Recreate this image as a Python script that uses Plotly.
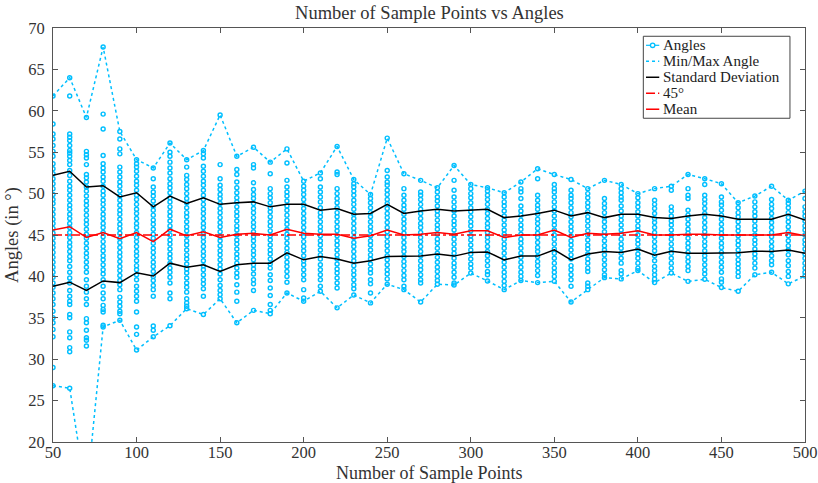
import plotly.graph_objects as go

SAMPLE_POINTS = list(range(50, 501, 10))

ANGLES = [
    [61.8, 58.4, 57.2, 56.6, 55.8, 55.1, 54.5, 53.6, 53.0, 52.4, 51.8, 51.2, 50.6, 49.9, 49.3, 48.8, 48.1, 47.5, 46.9, 46.4, 45.8, 45.2, 44.6, 44.0, 43.5, 42.9, 42.3, 41.7, 41.1, 40.5, 39.9, 39.2, 38.7, 38.0, 37.3, 36.6, 35.8, 35.0, 34.4, 33.6, 32.7, 29.0, 26.8],
    [64.0, 61.8, 57.2, 56.8, 56.4, 55.8, 55.2, 54.9, 54.5, 54.0, 53.5, 52.8, 52.2, 51.5, 50.9, 50.4, 49.8, 49.2, 48.6, 48.1, 47.5, 47.0, 46.4, 45.9, 45.3, 44.7, 44.1, 43.6, 43.0, 42.4, 41.9, 41.2, 40.5, 39.8, 39.2, 38.3, 37.6, 37.0, 36.6, 35.4, 35.0, 33.3, 32.6, 31.4, 30.9, 26.5],
    [59.2, 55.1, 54.7, 54.3, 53.5, 52.3, 51.9, 51.4, 50.8, 50.3, 49.7, 49.1, 48.6, 48.0, 47.4, 46.8, 46.3, 45.7, 45.1, 44.6, 44.0, 43.4, 42.8, 42.3, 41.7, 41.1, 40.5, 39.6, 38.8, 38.1, 37.3, 36.6, 34.9, 34.4, 33.5, 32.6, 32.3, 31.6, 13.5],
    [67.7, 59.6, 57.8, 54.6, 53.6, 53.1, 52.6, 52.0, 51.5, 50.9, 50.3, 49.8, 49.2, 48.7, 48.1, 47.5, 47.0, 46.4, 45.9, 45.3, 44.8, 44.2, 43.6, 43.1, 42.5, 42.0, 41.4, 40.8, 40.3, 39.6, 38.8, 38.0, 37.3, 36.5, 36.0, 35.7, 34.1, 33.9],
    [57.5, 56.6, 55.4, 54.8, 53.2, 52.6, 52.0, 51.4, 50.9, 50.3, 49.7, 49.2, 48.6, 48.0, 47.5, 46.9, 46.3, 45.8, 45.2, 44.6, 44.1, 43.5, 42.9, 42.4, 41.8, 41.2, 40.7, 40.1, 39.5, 39.0, 38.4, 37.5, 36.9, 36.4, 35.8, 35.5, 34.7],
    [54.1, 53.6, 53.2, 52.7, 52.1, 51.5, 51.0, 50.4, 49.8, 49.3, 48.7, 48.1, 47.6, 47.0, 46.4, 45.9, 45.3, 44.7, 44.2, 43.6, 43.0, 42.5, 41.9, 41.3, 40.8, 40.2, 39.6, 38.8, 38.2, 37.6, 37.0, 35.7, 33.9, 33.0, 31.1],
    [53.1, 51.8, 50.8, 50.2, 49.7, 49.1, 48.5, 48.0, 47.4, 46.8, 46.3, 45.7, 45.1, 44.6, 44.0, 43.4, 42.9, 42.3, 41.7, 41.2, 40.6, 40.0, 39.5, 38.9, 38.4, 37.6, 34.0, 33.5, 32.7],
    [56.1, 55.0, 54.5, 53.8, 53.1, 52.5, 51.8, 51.2, 50.7, 50.1, 49.5, 49.0, 48.4, 47.8, 47.3, 46.7, 46.1, 45.6, 45.0, 44.4, 43.9, 43.3, 42.7, 42.2, 41.6, 41.0, 40.5, 39.9, 39.2, 38.0, 37.3, 34.05],
    [54.1, 53.2, 52.2, 51.7, 51.1, 50.6, 50.0, 49.4, 48.9, 48.3, 47.7, 47.2, 46.6, 46.0, 45.5, 44.9, 44.3, 43.8, 43.2, 42.6, 42.1, 41.5, 40.9, 40.4, 39.8, 39.2, 38.7, 38.1, 37.3, 36.8, 36.4, 36.1],
    [55.2, 54.8, 54.3, 53.3, 52.7, 52.1, 51.5, 51.0, 50.4, 49.8, 49.3, 48.7, 48.1, 47.6, 47.0, 46.4, 45.9, 45.3, 44.7, 44.2, 43.6, 43.0, 42.5, 41.9, 41.3, 40.8, 40.2, 39.6, 39.1, 38.5, 37.6, 35.4],
    [59.5, 53.5, 51.8, 51.0, 50.5, 49.9, 49.4, 48.8, 48.2, 47.7, 47.1, 46.5, 46.0, 45.4, 44.8, 44.3, 43.7, 43.1, 42.6, 42.0, 41.4, 40.9, 40.3, 39.6, 38.9, 38.3, 37.8, 37.3],
    [54.5, 52.9, 52.3, 51.4, 50.7, 50.1, 49.5, 49.0, 48.4, 47.8, 47.3, 46.7, 46.1, 45.6, 45.0, 44.4, 43.9, 43.3, 42.7, 42.2, 41.6, 41.0, 40.4, 39.9, 39.0, 38.1, 37.0, 34.4],
    [55.6, 53.5, 53.1, 51.3, 50.5, 49.9, 49.4, 48.8, 48.2, 47.7, 47.1, 46.5, 46.0, 45.4, 44.8, 44.3, 43.7, 43.1, 42.6, 42.0, 41.4, 40.9, 40.3, 39.6, 39.1, 38.3, 35.9],
    [53.8, 52.4, 50.6, 50.0, 49.5, 48.9, 48.3, 47.8, 47.2, 46.6, 46.1, 45.5, 44.9, 44.4, 43.8, 43.2, 42.7, 42.1, 41.5, 41.0, 40.2, 39.5, 38.6, 37.7, 36.6, 35.9, 35.5],
    [55.4, 53.7, 51.6, 50.8, 50.2, 49.7, 49.1, 48.5, 48.0, 47.4, 46.8, 46.3, 45.7, 45.1, 44.6, 44.0, 43.4, 42.9, 42.3, 41.7, 41.2, 40.6, 40.0, 39.3, 38.0],
    [51.5, 50.9, 50.4, 49.9, 49.3, 48.7, 48.2, 47.6, 47.0, 46.5, 45.9, 45.3, 44.8, 44.2, 43.6, 43.1, 42.5, 41.9, 41.4, 40.8, 40.2, 39.6, 38.4, 37.4, 37.0],
    [52.5, 51.8, 50.8, 50.2, 49.6, 49.0, 48.3, 47.7, 47.2, 46.6, 46.0, 45.5, 44.9, 44.3, 43.8, 43.2, 42.6, 42.1, 41.4, 40.8, 40.2, 39.6, 38.8, 38.2],
    [55.7, 52.6, 52.3, 50.6, 50.0, 49.4, 48.9, 48.3, 47.7, 47.2, 46.6, 46.0, 45.5, 44.9, 44.3, 43.8, 43.2, 42.6, 42.1, 41.5, 40.9, 40.4, 39.8, 39.2, 38.6, 36.2],
    [51.7, 51.2, 50.8, 50.3, 49.8, 49.2, 48.7, 48.1, 47.5, 47.0, 46.4, 45.8, 45.3, 44.7, 44.1, 43.6, 43.0, 42.4, 41.9, 41.3, 40.7, 40.2, 39.6, 39.0, 38.5, 37.75],
    [49.9, 49.4, 48.9, 48.3, 47.7, 47.2, 46.6, 46.0, 45.5, 44.9, 44.3, 43.8, 43.2, 42.6, 42.1, 41.5, 40.9, 40.4, 39.6, 39.1, 38.0, 36.8],
    [56.7, 52.8, 52.0, 51.4, 51.0, 50.4, 49.9, 49.3, 48.8, 48.2, 47.6, 47.1, 46.5, 45.9, 45.4, 44.8, 44.2, 43.7, 43.1, 42.5, 42.0, 41.4, 40.8, 40.3, 39.7, 39.05],
    [52.4, 50.6, 49.8, 49.2, 48.6, 48.1, 47.5, 46.9, 46.4, 45.8, 45.2, 44.7, 44.1, 43.5, 43.0, 42.4, 41.8, 41.3, 40.7, 40.1, 39.6, 38.8, 38.4],
    [51.6, 50.2, 49.8, 49.3, 48.7, 48.1, 47.6, 47.0, 46.4, 45.9, 45.3, 44.7, 44.2, 43.6, 43.0, 42.5, 41.9, 41.3, 40.8, 40.2, 39.6, 39.2, 36.9],
    [50.7, 50.2, 49.6, 49.1, 48.5, 47.9, 47.4, 46.8, 46.2, 45.7, 45.1, 44.5, 44.0, 43.4, 42.8, 42.3, 41.7, 41.1, 40.6, 40.0, 39.5, 39.05],
    [53.4, 51.6, 50.4, 49.6, 49.0, 48.4, 47.9, 47.3, 46.7, 46.2, 45.6, 45.0, 44.5, 43.9, 43.3, 42.8, 42.2, 41.6, 41.1, 40.5, 39.9, 39.2, 38.96],
    [51.1, 50.6, 50.0, 49.5, 48.9, 48.3, 47.8, 47.2, 46.6, 46.1, 45.5, 44.9, 44.4, 43.8, 43.2, 42.7, 42.1, 41.5, 41.0, 40.4],
    [50.7, 50.3, 49.8, 49.3, 48.7, 48.1, 47.6, 47.0, 46.4, 45.9, 45.3, 44.7, 44.2, 43.6, 43.0, 42.5, 41.9, 41.3, 40.6, 40.2, 39.45],
    [50.1, 49.6, 49.0, 48.5, 47.9, 47.3, 46.8, 46.2, 45.6, 45.1, 44.5, 43.9, 43.4, 42.8, 42.2, 41.7, 41.1, 40.5, 40.0, 39.4, 38.9, 38.4],
    [51.4, 50.6, 50.2, 49.4, 48.5, 47.9, 47.4, 46.8, 46.2, 45.7, 45.1, 44.5, 44.0, 43.4, 42.8, 42.3, 41.7, 41.1, 40.5, 40.0, 39.5],
    [53.0, 51.8, 49.8, 49.2, 48.6, 48.1, 47.5, 46.9, 46.4, 45.8, 45.2, 44.7, 44.1, 43.5, 43.0, 42.4, 41.8, 41.3, 40.7, 40.1, 39.25],
    [52.3, 51.1, 50.6, 50.2, 49.6, 49.0, 48.4, 47.9, 47.3, 46.7, 46.2, 45.6, 45.0, 44.5, 43.9, 43.3, 42.8, 42.2, 41.6, 41.0, 40.5, 40.0, 39.4],
    [51.7, 50.4, 49.8, 49.4, 48.9, 48.3, 47.7, 47.2, 46.6, 46.0, 45.5, 44.9, 44.3, 43.8, 43.2, 42.6, 42.1, 41.3, 40.8, 40.2, 39.6, 38.8, 36.9],
    [50.6, 50.0, 49.5, 48.9, 48.4, 47.8, 47.2, 46.7, 46.1, 45.5, 45.0, 44.4, 43.8, 43.3, 42.7, 42.1, 41.6, 41.0, 40.6, 39.2, 38.8, 38.4],
    [51.6, 49.4, 48.8, 48.3, 47.7, 47.1, 46.6, 46.0, 45.4, 44.9, 44.3, 43.7, 43.2, 42.6, 42.0, 41.4, 40.8, 40.2, 39.85],
    [51.1, 50.6, 50.1, 49.6, 49.2, 48.5, 47.9, 47.3, 46.8, 46.2, 45.6, 45.1, 44.5, 43.9, 43.4, 42.8, 42.2, 41.6, 40.7, 40.3, 39.7],
    [50.0, 49.5, 48.9, 48.4, 47.8, 47.3, 46.7, 46.1, 45.6, 45.0, 44.4, 43.9, 43.3, 42.7, 42.2, 41.6, 41.0, 40.7],
    [50.6, 49.2, 48.7, 48.2, 47.6, 47.0, 46.5, 45.9, 45.3, 44.8, 44.2, 43.6, 43.1, 42.5, 41.9, 41.2, 40.7, 40.2, 39.7, 39.25],
    [50.9, 50.4, 48.4, 47.9, 47.3, 46.7, 46.2, 45.6, 45.0, 44.5, 43.9, 43.3, 42.8, 42.2, 41.6, 41.0, 40.4],
    [52.3, 50.6, 49.8, 49.4, 48.0, 47.4, 46.9, 46.3, 45.7, 45.2, 44.6, 44.0, 43.5, 42.9, 42.3, 41.8, 41.2, 40.7, 39.4],
    [51.8, 51.1, 49.8, 49.3, 48.8, 48.2, 47.6, 47.1, 46.5, 45.9, 45.4, 44.8, 44.2, 43.7, 43.1, 42.5, 42.0, 41.4, 40.8, 40.3, 39.65],
    [51.2, 49.6, 49.0, 48.6, 48.0, 47.4, 46.9, 46.3, 45.7, 45.2, 44.6, 44.0, 43.5, 42.9, 42.3, 41.7, 41.1, 40.5, 39.7, 39.3, 38.65],
    [48.9, 48.3, 47.7, 47.2, 46.6, 46.0, 45.5, 44.9, 44.3, 43.8, 43.2, 42.6, 42.0, 41.5, 41.0, 40.5, 40.0, 38.2],
    [49.7, 49.0, 48.4, 47.8, 47.3, 46.7, 46.1, 45.6, 45.0, 44.4, 43.9, 43.3, 42.7, 42.2, 41.6, 41.0, 40.2],
    [50.9, 49.3, 48.7, 48.2, 47.6, 47.0, 46.5, 45.9, 45.3, 44.8, 44.2, 43.6, 43.1, 42.5, 41.9, 41.4, 40.5],
    [49.2, 48.8, 48.3, 47.7, 47.1, 46.6, 46.0, 45.4, 44.9, 44.3, 43.7, 43.2, 42.6, 41.9, 41.3, 40.6, 40.0, 39.1],
    [50.3, 49.4, 48.4, 47.8, 47.3, 46.7, 46.1, 45.6, 45.0, 44.4, 43.9, 43.3, 42.7, 42.2, 41.6, 41.0, 40.5, 40.05],
]

STD_UPPER = [52.2, 52.7, 50.8, 50.95, 49.6, 50.1, 48.4, 49.7, 48.8, 49.5, 48.7, 48.9, 49.0, 48.4,
             48.7, 48.7, 48.0, 48.2, 47.5, 47.6, 48.7, 47.6, 47.9, 48.1, 47.9, 48.0, 48.1, 47.1,
             47.3, 47.6, 48.0, 47.3, 47.7, 47.1, 47.5, 47.5, 47.1, 47.0, 47.3, 47.5, 47.3, 46.9,
             46.9, 46.9, 47.5, 46.8]
STD_LOWER = [38.8, 39.3, 38.3, 39.45, 39.25, 40.45, 40.05, 41.6, 41.1, 41.4, 40.6, 41.4, 41.6, 41.6,
             42.85, 42.0, 42.4, 42.1, 41.6, 41.9, 42.4, 42.4, 42.45, 42.7, 42.45, 42.9, 42.95, 42.0,
             42.45, 42.45, 43.2, 42.0, 42.7, 43.0, 42.9, 43.3, 42.55, 43.05, 42.8, 42.8, 42.8, 42.85,
             43.05, 43.0, 43.2, 42.8]
MEAN = [45.6, 46.0, 44.7, 45.3, 44.55, 45.3, 44.2, 45.7, 44.9, 45.4, 44.7, 45.1, 45.2, 45.0,
        45.7, 45.2, 45.1, 45.1, 44.6, 44.9, 45.6, 45.0, 45.1, 45.3, 45.1, 45.5, 45.5, 44.7,
        45.0, 45.0, 45.6, 44.7, 45.2, 45.1, 45.2, 45.5, 45.0, 45.0, 45.1, 45.1, 45.0, 45.0,
        45.0, 45.0, 45.3, 44.9]
REFERENCE_ANGLE = 45

LEGEND_LABELS = ["Angles", "Min/Max Angle", "Standard Deviation", "45°", "Mean"]

CYAN = "#00BFFF"
FONT = "Liberation Serif"
TEXT = "#333333"

ax, ay = [], []
for xv, vals in zip(SAMPLE_POINTS, ANGLES):
    for v in vals:
        ax.append(xv)
        ay.append(v)

max_vals = [max(v) for v in ANGLES]
min_vals = [min(v) for v in ANGLES]

fig = go.Figure()
fig.add_trace(go.Scatter(
    x=ax, y=ay, mode="markers", name=LEGEND_LABELS[0],
    marker=dict(symbol="circle-open", size=4, color=CYAN, line=dict(width=1.45, color=CYAN))))
for arr in (max_vals, min_vals):
    fig.add_trace(go.Scatter(x=SAMPLE_POINTS, y=arr, mode="lines", name=LEGEND_LABELS[1],
                             line=dict(color=CYAN, width=1.5, dash="dot")))
for arr in (STD_UPPER, STD_LOWER):
    fig.add_trace(go.Scatter(x=SAMPLE_POINTS, y=arr, mode="lines", name=LEGEND_LABELS[2],
                             line=dict(color="black", width=1.5)))
fig.add_trace(go.Scatter(x=SAMPLE_POINTS, y=[REFERENCE_ANGLE] * len(SAMPLE_POINTS), mode="lines",
                         name=LEGEND_LABELS[3], line=dict(color="red", width=1.5, dash="dashdot")))
fig.add_trace(go.Scatter(x=SAMPLE_POINTS, y=MEAN, mode="lines", name=LEGEND_LABELS[4],
                         line=dict(color="red", width=1.5)))

# Compact legend box (MATLAB style) drawn in paper coordinates
lg_x0, lg_x1, lg_y0, lg_y1 = 0.785, 0.980, 0.782, 0.980
row_y = [0.9582, 0.9196, 0.8810, 0.8424, 0.8038]
sx0, sx1, tx = 0.7886, 0.8062, 0.8090
styles = [dict(color=CYAN, width=1.2), dict(color=CYAN, width=1.5, dash="dot"),
          dict(color="black", width=1.5), dict(color="red", width=1.5, dash="dashdot"),
          dict(color="red", width=1.5)]
shapes = [dict(type="rect", xref="paper", yref="paper", x0=lg_x0, x1=lg_x1, y0=lg_y0, y1=lg_y1,
               line=dict(color="#444444", width=1), fillcolor="white", layer="above")]
annotations = []
for lab, yy, st in zip(LEGEND_LABELS, row_y, styles):
    shapes.append(dict(type="line", xref="paper", yref="paper", x0=sx0, x1=sx1, y0=yy, y1=yy,
                       line=st, layer="above"))
    annotations.append(dict(text=lab, xref="paper", yref="paper", x=tx, y=yy, xanchor="left",
                            yanchor="middle", showarrow=False,
                            font=dict(family=FONT, size=15, color="#222222")))
shapes.append(dict(type="circle", xref="paper", yref="paper", xsizemode="pixel", ysizemode="pixel",
                   xanchor=(sx0 + sx1) / 2, yanchor=row_y[0], x0=-2.2, x1=2.2, y0=-2.2, y1=2.2,
                   line=dict(color=CYAN, width=1.3), fillcolor="white", layer="above"))

annotations.append(dict(text="Number of Sample Points", xref="paper", yref="paper", x=0.5,
                        y=-0.0745, xanchor="center", yanchor="middle", showarrow=False,
                        font=dict(family=FONT, size=18, color=TEXT)))

axis_common = dict(showgrid=False, zeroline=False, showline=True, mirror="allticks",
                   linecolor="#555555", linewidth=1, ticks="inside", ticklen=5,
                   tickcolor="#555555", automargin=False,
                   tickfont=dict(family=FONT, size=16.5, color=TEXT))

fig.update_layout(
    width=818, height=483,
    margin=dict(l=53, r=13, t=28, b=41, autoexpand=False),
    paper_bgcolor="white", plot_bgcolor="white",
    showlegend=False,
    title=dict(text="Number of Sample Points vs Angles", x=0.525, xanchor="center",
               y=0.975, yanchor="middle", font=dict(family=FONT, size=18.5, color=TEXT)),
    xaxis=dict(range=[50, 500], tickvals=list(range(50, 501, 50)), ticklabelstandoff=-5,
               **axis_common),
    yaxis=dict(range=[20, 70], tickvals=list(range(20, 71, 5)), ticklabelstandoff=4,
               title=dict(text="Angles (in °)", standoff=4,
                          font=dict(family=FONT, size=18.5, color=TEXT)),
               **axis_common),
    shapes=shapes,
    annotations=annotations,
)

fig.write_html("out.html")
